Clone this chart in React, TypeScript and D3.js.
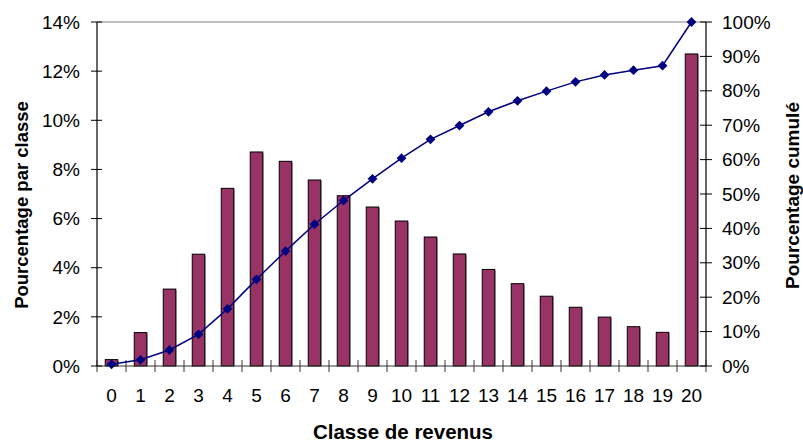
import React from "react";
import * as d3 from "d3";

const categories: string[] = ["0","1","2","3","4","5","6","7","8","9","10","11","12","13","14","15","16","17","18","19","20"];
const classPct: number[] = [0.26,1.36,3.13,4.55,7.23,8.71,8.33,7.57,6.93,6.47,5.90,5.25,4.56,3.93,3.35,2.84,2.39,1.99,1.60,1.37,12.70];
const cumulPct: number[] = [0.5,1.8,4.65,9.2,16.6,25.2,33.4,41.2,48.1,54.4,60.4,65.9,69.9,73.9,77.1,79.9,82.6,84.6,86.0,87.3,100];
const leftTicks: number[] = [0,2,4,6,8,10,12,14];
const rightTicks: number[] = [0,10,20,30,40,50,60,70,80,90,100];

const W = 803, H = 443;
const L = 97, R = 706, T = 22, B = 366;
const FONT = "'Liberation Sans', Arial, sans-serif";

export default function App() {
  const x = d3.scaleBand<string>().domain(categories).range([L, R]).paddingInner(0).paddingOuter(0);
  const yL = d3.scaleLinear().domain([0, 14]).range([B, T]);
  const yR = d3.scaleLinear().domain([0, 100]).range([B, T]);
  const cx = (c: string) => (x(c) as number) + x.bandwidth() / 2;
  const barW = 12.5;
  const line = d3.line<number>().x((_, i) => cx(categories[i])).y((d) => yR(d));
  const diamond = d3.symbol().type(d3.symbolSquare).size(48)();
  const boundaries = d3.range(categories.length + 1).map((i) => L + i * x.bandwidth());

  return (
    <svg width={W} height={H} style={{ position: "absolute", left: 0, top: 0, background: "#fff" }} fontFamily={FONT}>
      {/* top border */}
      <line x1={L} x2={R} y1={T} y2={T} stroke="#808080" strokeWidth={1} />
      {/* bars */}
      {classPct.map((v, i) => {
        const c = categories[i];
        const x0 = cx(c) - barW / 2;
        return (
          <g key={"b" + i}>
            <rect x={x0 + 1} y={yL(v) + 1} width={barW} height={B - yL(v) - 1} fill="#9a9a9a" />
            <rect x={x0} y={yL(v)} width={barW} height={B - yL(v)} fill="#993366" stroke="#000" strokeWidth={1} />
          </g>
        );
      })}
      {/* axes */}
      <line x1={L} x2={R} y1={B} y2={B} stroke="#333" strokeWidth={1.2} />
      <line x1={L} x2={L} y1={T} y2={B} stroke="#000" strokeWidth={1.2} />
      <line x1={R} x2={R} y1={T} y2={B} stroke="#000" strokeWidth={1.2} />
      {boundaries.map((bx, i) => (
        <line key={"xt" + i} x1={bx} x2={bx} y1={B - 6} y2={B + 6} stroke="#333" strokeWidth={1} />
      ))}
      {leftTicks.map((t) => (
        <g key={"lt" + t}>
          <line x1={L - 6} x2={L + 5} y1={yL(t)} y2={yL(t)} stroke="#000" strokeWidth={1} />
          <text x={80} y={yL(t)} dy="0.35em" textAnchor="end" fontSize={19} fill="#000">{t + "%"}</text>
        </g>
      ))}
      {rightTicks.map((t) => (
        <g key={"rt" + t}>
          <line x1={R - 6} x2={R + 6} y1={yR(t)} y2={yR(t)} stroke="#000" strokeWidth={1} />
          <text x={722} y={yR(t)} dy="0.35em" textAnchor="start" fontSize={19} fill="#000">{t + "%"}</text>
        </g>
      ))}
      {categories.map((c) => (
        <text key={"xl" + c} x={cx(c)} y={402} textAnchor="middle" fontSize={19} fill="#000">{c}</text>
      ))}
      {/* cumulative line */}
      <path d={line(cumulPct) || ""} fill="none" stroke="#000080" strokeWidth={1.5} />
      {cumulPct.map((v, i) => (
        <path key={"m" + i} d={diamond || ""} transform={`translate(${cx(categories[i])},${yR(v)}) rotate(45)`} fill="#000080" />
      ))}
      {/* titles */}
      <text x={403} y={439} textAnchor="middle" fontSize={20.5} fontWeight="bold" fill="#000">Classe de revenus</text>
      <text transform={`translate(27.5,205) rotate(-90)`} textAnchor="middle" fontSize={18.5} fontWeight="bold" fill="#000">Pourcentage par classe</text>
      <text transform={`translate(798.5,195.5) rotate(-90)`} textAnchor="middle" fontSize={19} fontWeight="bold" fill="#000">Pourcentage cumulé</text>
    </svg>
  );
}
